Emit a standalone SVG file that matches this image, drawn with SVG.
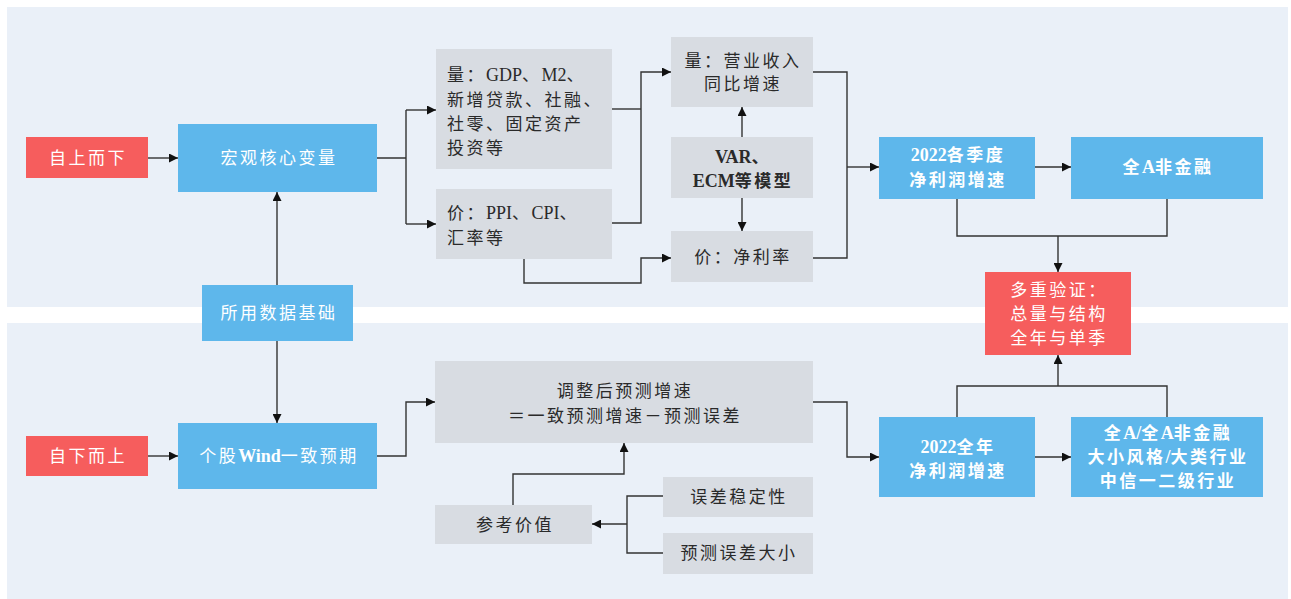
<svg xmlns="http://www.w3.org/2000/svg" width="1291" height="599" viewBox="0 0 1291 599">
<defs>
<style>
.red{fill:#f65d5d}
.blue{fill:#5eb7eb}
.gray{fill:#d8dce2}
text{font-family:"Liberation Serif","Noto Sans CJK SC",serif;font-size:17px;letter-spacing:2.5px}
.l{letter-spacing:0px;font-size:18px}
.w{fill:#ffffff}
.d{fill:#2a2a2a}
.b{font-weight:bold}
.c{text-anchor:middle}
.ln{fill:none;stroke:#333333;stroke-width:1.4}
.ar{marker-end:url(#ah)}
</style>
<marker id="ah" markerWidth="9" markerHeight="9" refX="9" refY="4.5" orient="auto" markerUnits="userSpaceOnUse">
<path d="M0,0 L9,4.5 L0,9 z" fill="#111111"/>
</marker>
</defs>
<rect x="0" y="0" width="1291" height="599" fill="#ffffff"/>
<rect x="7" y="7" width="1281" height="300" fill="#eaf0f8"/>
<rect x="7" y="323" width="1281" height="276" fill="#eaf0f8"/>

<g id="connectors">
<path class="ln ar" d="M148,158 H178"/>
<path class="ln" d="M377,158 H406 M406,110 V224"/>
<path class="ln ar" d="M406,110 H436"/>
<path class="ln ar" d="M406,224 H436"/>
<path class="ln" d="M612,109 H641"/>
<path class="ln ar" d="M612,223 H641 V72 H671"/>
<path class="ln ar" d="M524,259 V283 H641 V258 H671"/>
<path class="ln ar" d="M742,137 V107"/>
<path class="ln ar" d="M742,198 V231"/>
<path class="ln" d="M813,72 H847 V258 H813"/>
<path class="ln ar" d="M847,167 H879"/>
<path class="ln ar" d="M1035,167 H1071"/>
<path class="ln" d="M957,199 V236 H1167 V199"/>
<path class="ln ar" d="M1058,236 V272"/>
<path class="ln" d="M957,417 V386 H1167 V417"/>
<path class="ln ar" d="M1058,386 V355"/>
<path class="ln ar" d="M1035,457 H1071"/>
<path class="ln ar" d="M277,285 V192"/>
<path class="ln ar" d="M277,341 V423"/>
<path class="ln ar" d="M148,456 H178"/>
<path class="ln ar" d="M377,456 H406 V402 H435"/>
<path class="ln ar" d="M813,402 H847 V457 H879"/>
<path class="ln ar" d="M513,505 V474 H624 V443"/>
<path class="ln" d="M663,496 H627 V553 H663"/>
<path class="ln ar" d="M627,524 H592"/>
</g>

<g id="n-top-down"><rect class="red" x="26" y="137" width="122" height="41"/><text class="w c" x="88" y="164">自上而下</text></g>
<g id="n-macro"><rect class="blue" x="178" y="124" width="199" height="68"/><text class="w c" x="279" y="164">宏观核心变量</text></g>
<g id="n-volume"><rect class="gray" x="436" y="49" width="176" height="120"/>
<text class="d" x="447" y="81">量：<tspan class="l">GDP</tspan>、<tspan class="l">M2</tspan>、</text>
<text class="d" x="447" y="106">新增贷款、社融、</text>
<text class="d" x="447" y="130">社零、固定资产</text>
<text class="d" x="447" y="154">投资等</text></g>
<g id="n-price"><rect class="gray" x="436" y="189" width="176" height="70"/>
<text class="d" x="447" y="219">价：<tspan class="l">PPI</tspan>、<tspan class="l">CPI</tspan>、</text>
<text class="d" x="447" y="244">汇率等</text></g>
<g id="n-revenue"><rect class="gray" x="671" y="37" width="142" height="70"/>
<text class="d c" x="743" y="67">量：营业收入</text>
<text class="d c" x="743" y="90">同比增速</text></g>
<g id="n-model"><rect class="gray" x="671" y="137" width="142" height="61"/>
<text class="d c b" x="743" y="163"><tspan class="l">VAR</tspan>、</text>
<text class="d c b" x="743" y="187"><tspan class="l">ECM</tspan>等模型</text></g>
<g id="n-margin"><rect class="gray" x="671" y="231" width="142" height="51"/>
<text class="d c" x="743" y="263">价：净利率</text></g>
<g id="n-quarterly"><rect class="blue" x="879" y="137" width="156" height="62"/>
<text class="w c b" x="958" y="161"><tspan class="l">2022</tspan>各季度</text>
<text class="w c b" x="958" y="186">净利润增速</text></g>
<g id="n-nonfin"><rect class="blue" x="1071" y="137" width="192" height="62"/>
<text class="w c b" x="1168" y="173">全<tspan class="l">A</tspan>非金融</text></g>
<g id="n-verify"><rect class="red" x="985" y="272" width="146" height="83"/>
<text class="w c" x="1059" y="296">多重验证：</text>
<text class="w c" x="1059" y="320">总量与结构</text>
<text class="w c" x="1059" y="344">全年与单季</text></g>
<g id="n-data"><rect class="blue" x="202" y="285" width="151" height="56"/>
<text class="w c" x="279" y="319">所用数据基础</text></g>
<g id="n-bottom-up"><rect class="red" x="26" y="436" width="122" height="40"/><text class="w c" x="88" y="462">自下而上</text></g>
<g id="n-wind"><rect class="blue" x="178" y="423" width="199" height="66"/>
<text class="w c" x="279" y="462">个股<tspan class="b l">Wind</tspan>一致预期</text></g>
<g id="n-adjusted"><rect class="gray" x="435" y="361" width="378" height="82"/>
<text class="d c" x="625" y="397">调整后预测增速</text>
<text class="d c" x="625" y="422">＝一致预测增速－预测误差</text></g>
<g id="n-reference"><rect class="gray" x="435" y="505" width="157" height="39"/>
<text class="d c" x="515" y="531">参考价值</text></g>
<g id="n-stability"><rect class="gray" x="663" y="477" width="150" height="40"/>
<text class="d c" x="739" y="503">误差稳定性</text></g>
<g id="n-errsize"><rect class="gray" x="663" y="533" width="150" height="41"/>
<text class="d c" x="739" y="559">预测误差大小</text></g>
<g id="n-annual"><rect class="blue" x="879" y="417" width="156" height="80"/>
<text class="w c b" x="958" y="453"><tspan class="l">2022</tspan>全年</text>
<text class="w c b" x="958" y="477">净利润增速</text></g>
<g id="n-segments"><rect class="blue" x="1071" y="417" width="192" height="80"/>
<text class="w c b" x="1168" y="439">全<tspan class="l">A/</tspan>全<tspan class="l">A</tspan>非金融</text>
<text class="w c b" x="1168" y="463">大小风格<tspan class="l">/</tspan>大类行业</text>
<text class="w c b" x="1168" y="487">中信一二级行业</text></g>
</svg>
